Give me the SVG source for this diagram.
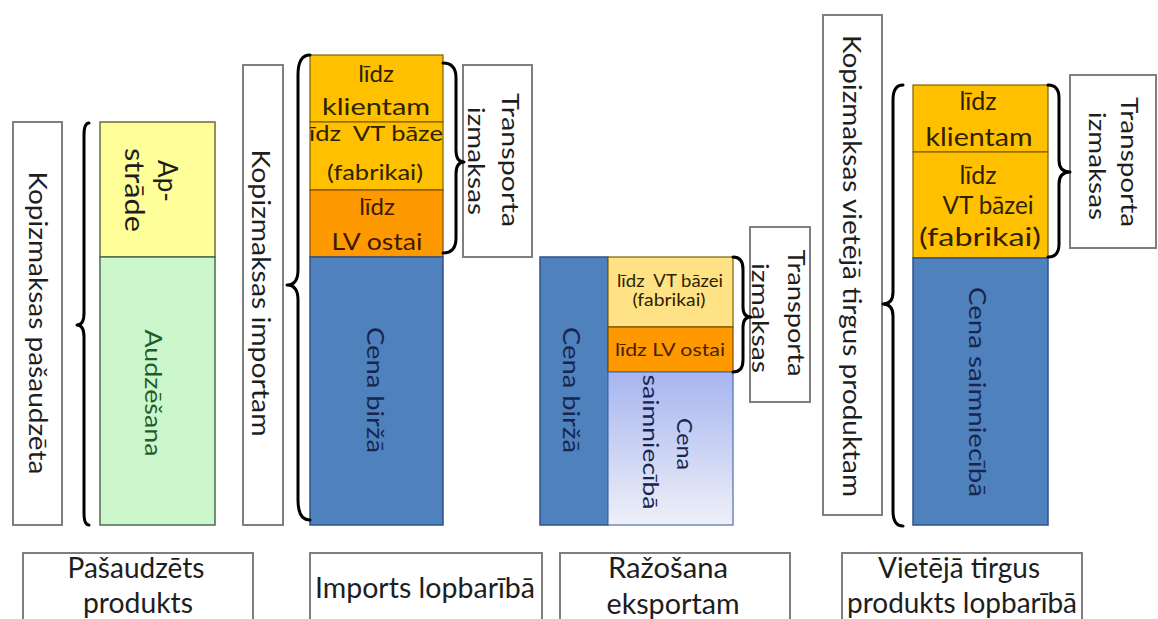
<svg xmlns="http://www.w3.org/2000/svg" width="1158" height="619" viewBox="0 0 1158 619">
<style>
text{font-family:Lato,"Noto Sans","DejaVu Sans",sans-serif;fill:#1e1e1e}
.lbl{fill:#fff;stroke:#7f7f7f;stroke-width:2}
.brace{fill:none;stroke:#000;stroke-width:3;stroke-linecap:round;stroke-linejoin:round}
.blue{fill:#4f81bd;stroke:#2f528f;stroke-width:1.5}
.gold{fill:#ffc000;stroke:#7f6000;stroke-width:1.2}
.orng{fill:#ff9900;stroke:#7f4c00;stroke-width:1.2}
.m{text-anchor:middle}
.bt{fill:#17264f}
.st{fill:#2e2200}
</style>
<defs>
<linearGradient id="gsm" x1="0" y1="0" x2="0" y2="1">
<stop offset="0" stop-color="#a7b5ef"/>
<stop offset="1" stop-color="#eef0f8"/>
</linearGradient>
<clipPath id="c2"><rect x="310" y="122" width="133" height="68"/></clipPath>
</defs>

<g id="n-kop-pasaudzeta">
<rect class="lbl" x="13" y="122" width="49" height="403"/>
<text class="m" transform="translate(29,323) rotate(90)" font-size="25" textLength="303" lengthAdjust="spacingAndGlyphs">Kopizmaksas pašaudzēta</text>
</g>

<g id="n-apstrade">
<rect x="100" y="122" width="115" height="135" fill="#ffff99" stroke="#6b6b3a" stroke-width="1.5"/>
<text class="m" transform="translate(158,181) rotate(90)" font-size="26">Ap-</text>
<text class="m" transform="translate(125,190) rotate(90)" font-size="26" textLength="84" lengthAdjust="spacingAndGlyphs">strāde</text>
</g>
<g id="n-audzesana">
<rect x="100" y="257" width="115" height="268" fill="#ccf7cc" stroke="#4d6b4d" stroke-width="1.5"/>
<text class="m" transform="translate(145,393) rotate(90)" font-size="24" style="fill:#1f5e29" textLength="127" lengthAdjust="spacingAndGlyphs">Audzēšana</text>
</g>

<g id="n-kop-importam">
<rect class="lbl" x="243" y="65" width="40" height="460"/>
<text class="m" transform="translate(252,293) rotate(90)" font-size="25" textLength="287" lengthAdjust="spacingAndGlyphs">Kopizmaksas importam</text>
</g>

<g id="n-imp-klientam">
<rect class="gold" x="310" y="55" width="133" height="67"/>
<text class="m st" x="376" y="82" font-size="24">līdz</text>
<text class="m st" x="376" y="115" font-size="24" textLength="108" lengthAdjust="spacingAndGlyphs">klientam</text>
</g>
<g id="n-imp-vtbaze">
<rect class="gold" x="310" y="122" width="133" height="68"/>
<text class="m st" x="376" y="141" font-size="21" clip-path="url(#c2)" xml:space="preserve" textLength="146" lengthAdjust="spacingAndGlyphs">līdz  VT bāzei</text>
<text class="m st" x="375" y="180" font-size="21" textLength="96" lengthAdjust="spacingAndGlyphs">(fabrikai)</text>
</g>
<g id="n-imp-lvostai">
<rect class="orng" x="310" y="190" width="133" height="67"/>
<text class="m st" x="377" y="215" font-size="24" style="fill:#3d1a00">līdz</text>
<text class="m st" x="377" y="250" font-size="24" style="fill:#3d1a00" textLength="91" lengthAdjust="spacingAndGlyphs">LV ostai</text>
</g>
<g id="n-imp-birza">
<rect class="blue" x="310" y="257" width="133" height="268"/>
<text class="m bt" transform="translate(367,390) rotate(90)" font-size="24" textLength="126" lengthAdjust="spacingAndGlyphs">Cena biržā</text>
</g>
<g id="n-imp-transport">
<rect class="lbl" x="463" y="65" width="69" height="192"/>
<text class="m" transform="translate(502,160) rotate(90)" font-size="24" textLength="134" lengthAdjust="spacingAndGlyphs">Transporta</text>
<text class="m" transform="translate(468,161) rotate(90)" font-size="24" textLength="108" lengthAdjust="spacingAndGlyphs">izmaksas</text>
</g>

<g id="n-exp-birza">
<rect class="blue" x="540" y="257" width="68" height="268"/>
<text class="m bt" transform="translate(563,390) rotate(90)" font-size="24" textLength="126" lengthAdjust="spacingAndGlyphs">Cena biržā</text>
</g>
<g id="n-exp-vtbazei">
<rect x="608" y="257" width="125" height="70" fill="#ffe285" stroke="#7f6000" stroke-width="1.2"/>
<text class="m st" x="670" y="287" font-size="17" xml:space="preserve" textLength="106" lengthAdjust="spacingAndGlyphs">līdz  VT bāzei</text>
<text class="m st" x="669" y="306" font-size="17" textLength="73" lengthAdjust="spacingAndGlyphs">(fabrikai)</text>
</g>
<g id="n-exp-lvostai">
<rect class="orng" x="608" y="327" width="125" height="45"/>
<text class="m st" x="670" y="356" font-size="18" style="fill:#4a1f00" textLength="110" lengthAdjust="spacingAndGlyphs">līdz LV ostai</text>
</g>
<g id="n-exp-saimn">
<rect x="608" y="372" width="125" height="153" fill="url(#gsm)" stroke="#4f6fb0" stroke-width="1.2"/>
<text class="m bt" transform="translate(677,444) rotate(90)" font-size="22" textLength="52" lengthAdjust="spacingAndGlyphs">Cena</text>
<text class="m bt" transform="translate(643,442) rotate(90)" font-size="22" textLength="135" lengthAdjust="spacingAndGlyphs">saimniecībā</text>
</g>
<g id="n-exp-transport">
<rect class="lbl" x="750" y="227" width="60" height="175"/>
<text class="m" transform="translate(788,313) rotate(90)" font-size="24" textLength="127" lengthAdjust="spacingAndGlyphs">Transporta</text>
<text class="m" transform="translate(752,318) rotate(90)" font-size="24" textLength="110" lengthAdjust="spacingAndGlyphs">izmaksas</text>
</g>

<g id="n-kop-vieteja">
<rect class="lbl" x="823" y="15" width="59" height="500"/>
<text class="m" transform="translate(843,266) rotate(90)" font-size="25" textLength="462" lengthAdjust="spacingAndGlyphs">Kopizmaksas vietējā tirgus produktam</text>
</g>
<g id="n-vt-klientam">
<rect class="gold" x="913" y="85" width="135" height="67"/>
<text class="m st" x="978" y="110" font-size="25">līdz</text>
<text class="m st" x="979" y="146" font-size="25" textLength="107" lengthAdjust="spacingAndGlyphs">klientam</text>
</g>
<g id="n-vt-vtbazei">
<rect class="gold" x="913" y="152" width="135" height="106"/>
<text class="m st" x="978" y="184" font-size="25">līdz</text>
<text class="m st" x="988" y="214" font-size="25" textLength="91" lengthAdjust="spacingAndGlyphs">VT bāzei</text>
<text class="m st" x="980" y="246" font-size="25" textLength="122" lengthAdjust="spacingAndGlyphs">(fabrikai)</text>
</g>
<g id="n-vt-saimn">
<rect class="blue" x="913" y="258" width="135" height="267"/>
<text class="m bt" transform="translate(969,392) rotate(90)" font-size="24" textLength="210" lengthAdjust="spacingAndGlyphs">Cena saimniecībā</text>
</g>
<g id="n-vt-transport">
<rect class="lbl" x="1070" y="75" width="86" height="173"/>
<text class="m" transform="translate(1121,162) rotate(90)" font-size="24" textLength="130" lengthAdjust="spacingAndGlyphs">Transporta</text>
<text class="m" transform="translate(1089,166) rotate(90)" font-size="24" textLength="108" lengthAdjust="spacingAndGlyphs">izmaksas</text>
</g>

<g id="n-b-pasaudzets">
<rect class="lbl" x="23" y="553" width="230" height="80"/>
<text class="m" x="136" y="578" font-size="28" textLength="137" lengthAdjust="spacingAndGlyphs">Pašaudzēts</text>
<text class="m" x="138" y="613" font-size="28" textLength="110" lengthAdjust="spacingAndGlyphs">produkts</text>
</g>
<g id="n-b-imports">
<rect class="lbl" x="310" y="553" width="232" height="80"/>
<text class="m" x="425" y="598" font-size="28" textLength="220" lengthAdjust="spacingAndGlyphs">Imports lopbarībā</text>
</g>
<g id="n-b-razosana">
<rect class="lbl" x="560" y="553" width="230" height="80"/>
<text class="m" x="668" y="578" font-size="28" textLength="120" lengthAdjust="spacingAndGlyphs">Ražošana</text>
<text class="m" x="673" y="614" font-size="28" textLength="133" lengthAdjust="spacingAndGlyphs">eksportam</text>
</g>
<g id="n-b-vieteja">
<rect class="lbl" x="842" y="553" width="240" height="80"/>
<text class="m" x="959" y="578" font-size="28" textLength="162" lengthAdjust="spacingAndGlyphs">Vietējā tirgus</text>
<text class="m" x="962" y="613" font-size="28" textLength="230" lengthAdjust="spacingAndGlyphs">produkts lopbarībā</text>
</g>

<g id="connectors">
<path class="brace" d="M89,123 Q84,123 84,135 L84,313 Q84,325 77,325 Q84,325 84,337 L84,513 Q84,525 89,525"/>
<path class="brace" d="M310,55 Q298,55 298,75 L298,270 Q298,285 287,285 Q298,285 298,300 L298,500 Q298,520 310,520"/>
<path class="brace" d="M443,63 Q456,63 456,78 L456,150 Q456,162 464,162 Q456,162 456,174 L456,238 Q456,253 443,253"/>
<path class="brace" d="M733,257 Q743,257 743,269 L743,307 Q743,317 751,317 Q743,317 743,327 L743,360 Q743,372 733,372"/>
<path class="brace" d="M903,85 Q893,85 893,100 L893,292 Q893,304 883,304 Q893,304 893,316 L893,511 Q893,526 903,526"/>
<path class="brace" d="M1048,85 Q1059,85 1059,98 L1059,160 Q1059,172 1070,172 Q1059,172 1059,184 L1059,244 Q1059,257 1048,257"/>
</g>
</svg>
